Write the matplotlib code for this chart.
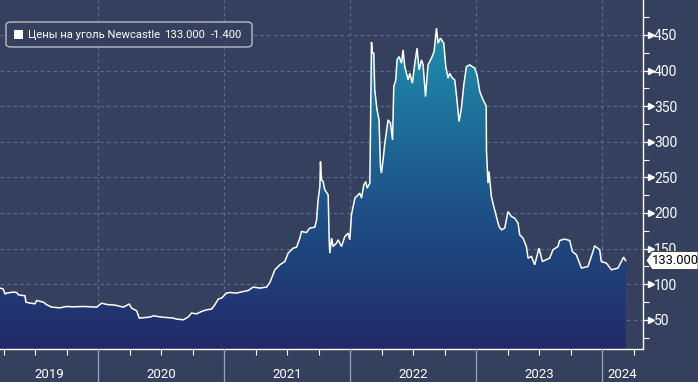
import matplotlib
matplotlib.use("Agg")
import matplotlib.pyplot as plt
import numpy as np
from matplotlib.colors import LinearSegmentedColormap
from matplotlib.patches import FancyBboxPatch, Polygon
from matplotlib.transforms import offset_copy

plt.rcParams['font.family'] = ['Roboto', 'DejaVu Sans']

# ---- data (decimal year, price USD/t) ----
years = [2019.219, 2019.245, 2019.259, 2019.272, 2019.325, 2019.352, 2019.364, 2019.417, 2019.425, 2019.457,
         2019.497, 2019.510, 2019.563, 2019.590, 2019.629, 2019.695, 2019.748, 2019.801, 2019.880, 2019.987,
         2020.026, 2020.066, 2020.132, 2020.198, 2020.245, 2020.264, 2020.304, 2020.325, 2020.410, 2020.436,
         2020.502, 2020.594, 2020.621, 2020.674, 2020.713, 2020.740, 2020.780, 2020.820, 2020.860, 2020.899,
         2020.925, 2020.952, 2020.979, 2021.005, 2021.018, 2021.044, 2021.098, 2021.150, 2021.190, 2021.229,
         2021.283, 2021.336, 2021.362, 2021.402, 2021.441, 2021.481, 2021.507, 2021.547, 2021.574, 2021.600,
         2021.613, 2021.653, 2021.679, 2021.719, 2021.733, 2021.745, 2021.759, 2021.764, 2021.772, 2021.785,
         2021.798, 2021.825, 2021.833, 2021.838, 2021.852, 2021.864, 2021.891, 2021.904, 2021.931, 2021.957,
         2021.983, 2021.997, 2022.010, 2022.037, 2022.076, 2022.090, 2022.108, 2022.124, 2022.134, 2022.156,
         2022.169, 2022.177, 2022.187, 2022.195, 2022.213, 2022.229, 2022.240, 2022.248, 2022.261, 2022.275,
         2022.301, 2022.320, 2022.336, 2022.346, 2022.362, 2022.372, 2022.388, 2022.407, 2022.420, 2022.433,
         2022.460, 2022.473, 2022.494, 2022.513, 2022.531, 2022.547, 2022.566, 2022.579, 2022.598, 2022.618,
         2022.645, 2022.666, 2022.685, 2022.698, 2022.717, 2022.743, 2022.759, 2022.777, 2022.790, 2022.812,
         2022.830, 2022.848, 2022.864, 2022.883, 2022.902, 2022.923, 2022.949, 2022.989, 2023.007, 2023.029,
         2023.055, 2023.069, 2023.080, 2023.082, 2023.094, 2023.102, 2023.121, 2023.140, 2023.161, 2023.182,
         2023.201, 2023.227, 2023.253, 2023.280, 2023.306, 2023.333, 2023.346, 2023.372, 2023.399, 2023.412,
         2023.439, 2023.465, 2023.499, 2023.526, 2023.584, 2023.610, 2023.650, 2023.663, 2023.703, 2023.743,
         2023.764, 2023.796, 2023.836, 2023.888, 2023.928, 2023.941, 2023.981, 2023.994, 2024.034, 2024.074,
         2024.126, 2024.153, 2024.171, 2024.187]
prices = [94.5, 93.1, 86.0, 87.5, 88.9, 88.3, 85.1, 83.7, 74.8, 73.4,
          72.5, 77.1, 74.8, 71.1, 67.8, 66.8, 68.7, 68.2, 68.7, 67.8,
          73.4, 71.5, 70.6, 67.8, 72.0, 66.4, 62.6, 52.4, 53.8, 55.6,
          53.8, 52.4, 51.0, 50.0, 53.8, 59.4, 58.4, 61.7, 64.0, 65.0,
          71.1, 79.1, 80.5, 85.1, 87.5, 88.3, 87.5, 89.7, 91.1, 95.9,
          94.5, 95.9, 102.4, 120.2, 127.2, 131.8, 143.6, 150.6, 152.0, 164.7,
          173.9, 172.5, 178.7, 180.1, 190.4, 218.4, 237.1, 272.2, 246.5, 244.1,
          232.5, 225.4, 162.3, 143.6, 164.7, 152.9, 157.6, 162.3, 152.9, 166.9,
          171.6, 162.3, 197.4, 220.8, 227.8, 220.8, 239.5, 244.1, 234.8, 241.9,
          440.0, 424.3, 424.3, 372.8, 344.7, 330.7, 265.2, 255.9, 274.6, 298.0,
          330.7, 326.1, 302.6, 377.4, 386.8, 414.9, 419.5, 410.3, 428.9, 405.5,
          386.8, 396.2, 382.2, 410.3, 431.3, 400.9, 414.9, 407.9, 363.4, 407.9,
          417.3, 426.6, 459.4, 438.4, 445.4, 438.4, 405.5, 389.2, 396.2, 389.2,
          386.8, 358.8, 328.3, 347.1, 379.8, 405.5, 407.9, 403.3, 393.9, 370.4,
          358.8, 354.1, 350.0, 288.6, 241.9, 258.1, 223.1, 209.0, 195.0, 180.9,
          176.3, 178.7, 202.0, 195.0, 192.7, 185.7, 169.3, 164.7, 152.9, 136.6,
          138.9, 127.2, 150.6, 131.8, 136.6, 148.3, 152.9, 161.3, 163.3, 161.3,
          145.9, 141.2, 122.6, 124.8, 145.9, 153.9, 148.3, 131.8, 129.6, 120.2,
          122.6, 131.8, 138.0, 133.0]
year_labels = ['2019', '2020', '2021', '2022', '2023', '2024']
y_ticks = [50, 100, 150, 200, 250, 300, 350, 400, 450]
series_name = 'Цены на уголь Newcastle'
last_value = 133.000
last_change = -1.400

BG = '#34405d'
GRID = '#5d6d93'

x = np.array(years)
y = np.array(prices)

fig = plt.figure(figsize=(6.98, 3.82), dpi=100, facecolor=BG)
ax = fig.add_axes([0.0, 0.0864, 0.9212, 0.9136])
ax.set_facecolor(BG)

XMIN, XMAX = 2019.219, 2024.325
YMIN, YMAX = 9, 499
ax.set_xlim(XMIN, XMAX)
ax.set_ylim(YMIN, YMAX)

# grid
for v in y_ticks:
    ax.axhline(v, color=GRID, lw=0.8, ls=(0, (3, 3)), zorder=1)
for yr in range(2020, 2025):
    ax.axvline(yr, color=GRID, lw=0.8, ls=(0, (3, 3)), zorder=1)

# gradient area
cmap = LinearSegmentedColormap.from_list('g', [(0.0, '#222a68'), (0.45, '#1d5288'), (1.0, '#1e90ae')])
grad = np.linspace(0, 1, 256).reshape(-1, 1)
im = ax.imshow(grad, cmap=cmap, aspect='auto', origin='lower',
               extent=[XMIN, XMAX, YMIN, 460], zorder=2)
verts = [(x[0], YMIN)] + list(zip(x, y)) + [(x[-1], YMIN)]
poly = Polygon(verts, closed=True, facecolor='none', edgecolor='none', transform=ax.transData)
ax.add_patch(poly)
im.set_clip_path(poly)
ax.plot(x, y, color='white', lw=1.1, zorder=3, solid_joinstyle='miter')

# spines
for s in ['top', 'left']:
    ax.spines[s].set_visible(False)
for s in ['right', 'bottom']:
    ax.spines[s].set_color('white')
    ax.spines[s].set_linewidth(1.0)

ax.yaxis.tick_right()
ax.set_yticks(y_ticks)
ax.set_yticklabels([str(v) for v in y_ticks])
ax.set_yticks(np.arange(25, 500, 50), minor=True)
ax.tick_params(axis='y', which='major', colors='white', length=7, width=0.9, pad=1, labelsize=10)
ax.tick_params(axis='y', which='minor', colors='white', length=4, width=0.8)
# arrow heads on major ticks
arrow_tr = offset_copy(ax.get_yaxis_transform(), fig=fig, x=5.5, y=0, units='points')
ax.plot([1.0] * len(y_ticks), y_ticks, ls='none', marker='>', ms=4.5, color='white',
        transform=arrow_tr, clip_on=False, zorder=6)

# x ticks: quarters
qt = [2019.25 + 0.25 * i for i in range(21) if 2019.25 + 0.25 * i <= XMAX]
ax.set_xticks(qt)
ax.set_xticklabels([])
ax.tick_params(axis='x', which='major', colors='white', length=4, width=0.8)

# year separators and labels below axis
for yr in range(2020, 2025):
    ax.plot([yr, yr], [0, -0.1], transform=ax.get_xaxis_transform(), color='#9aa3b8', lw=0.9,
            clip_on=False, zorder=5)
for lab in year_labels:
    yr = int(lab)
    a = max(yr, XMIN)
    b = min(yr + 1, XMAX)
    ax.text((a + b) / 2, -0.073, lab, transform=ax.get_xaxis_transform(), ha='center', va='center',
            color='white', fontsize=9.5, clip_on=False)

# legend box
fx = lambda px: px / 698
fy = lambda py: 1 - py / 382
box = FancyBboxPatch((fx(6), fy(47)), fx(246), 25 / 382, boxstyle='round,pad=0,rounding_size=0.008',
                     transform=fig.transFigure, facecolor=BG, edgecolor='#c5cad6', lw=0.9, zorder=10)
fig.patches.append(box)
sq = plt.Rectangle((fx(14), fy(38.5)), fx(8.5), 8.5 / 382, transform=fig.transFigure,
                   facecolor='white', edgecolor='none', zorder=11)
fig.patches.append(sq)
fig.text(fx(28), fy(34.5), series_name, color='white', fontsize=8.1, va='center', ha='left', zorder=12)
fig.text(fx(164), fy(34.5), f'{last_value:.3f}', color='white', fontsize=8.1, va='center', ha='left', zorder=12)
fig.text(fx(211), fy(34.5), f'{last_change:.3f}', color='white', fontsize=8.1, va='center', ha='left', zorder=12)

# price tag
ty = fy(260.5)
tag = [(fx(646), ty), (fx(652), fy(251.5)), (fx(698), fy(251.5)), (fx(698), fy(269.5)), (fx(652), fy(269.5))]
fig.patches.append(Polygon(tag, closed=True, transform=fig.transFigure, facecolor='white',
                           edgecolor='#333333', lw=0.6, zorder=20))
fig.text(fx(651.5), ty, f'{last_value:.3f}', color='black', fontsize=9.3, va='center', ha='left', zorder=21)

fig.savefig('out.png', dpi=100, facecolor=BG)
